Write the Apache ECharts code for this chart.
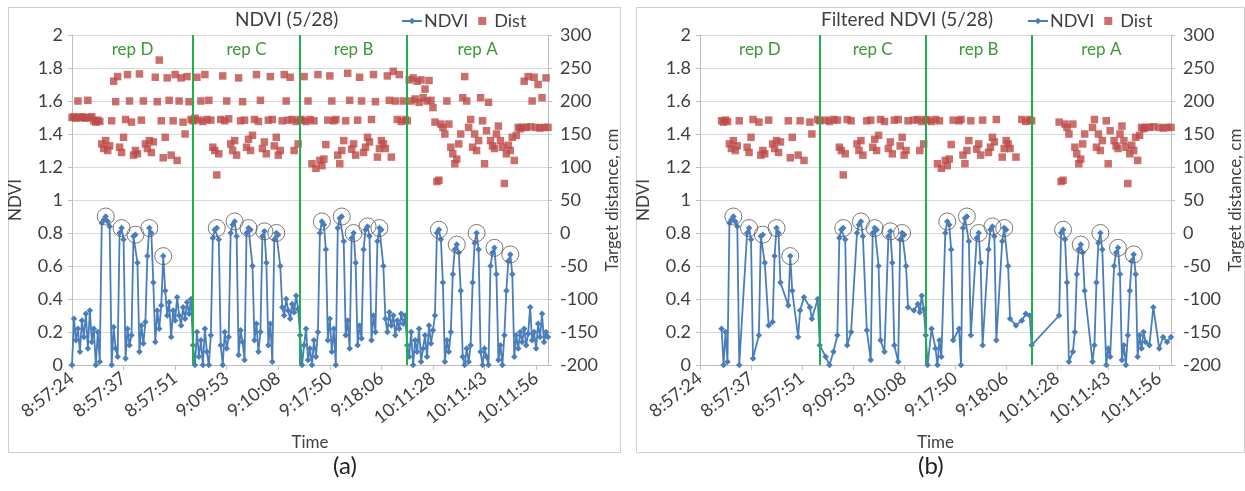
<!DOCTYPE html>
<html>
<head>
<meta charset="utf-8">
<script src="https://cdn.jsdelivr.net/npm/echarts@6/dist/echarts.min.js"></script>
<style>
  html, body { margin: 0; padding: 0; background: #ffffff; }
  #chart { width: 1245px; height: 491px; }
</style>
</head>
<body>
<div id="chart"></div>
<script>
// Time labels shown on the category axis, one every labelStep samples
const tickLabels = ['8:57:24', '8:57:37', '8:57:51', '9:09:53', '9:10:08',
                    '9:17:50', '9:18:06', '10:11:28', '10:11:43', '10:11:56'];
const labelStep = 26;

// Plot names and the sample indices where each plot begins / ends
const repNames = ['rep D', 'rep C', 'rep B', 'rep A'];
const repBounds = [0, 61, 115, 169, 240];

// Raw NDVI readings
const ndviA = [
  0.00,0.28,0.15,0.22,0.08,0.27,0.17,0.31,0.10,0.33,
  0.14,0.22,0.00,0.20,0.02,0.86,0.88,0.90,0.87,0.84,
  0.00,0.23,0.10,0.05,0.80,0.83,0.76,0.04,0.22,0.12,
  0.18,0.78,0.79,0.62,0.08,0.24,0.13,0.26,0.66,0.83,
  0.80,0.50,0.14,0.33,0.22,0.36,0.66,0.45,0.30,0.38,
  0.17,0.33,0.27,0.41,0.30,0.24,0.35,0.28,0.38,0.31,
  0.40,
  0.12,0.00,0.20,0.05,0.15,0.00,0.22,0.08,0.00,
  0.18,0.77,0.82,0.83,0.76,0.12,0.00,0.20,0.10,0.17,
  0.80,0.85,0.87,0.78,0.06,0.21,0.14,0.03,0.80,0.83,
  0.82,0.60,0.15,0.25,0.08,0.20,0.78,0.81,0.62,0.12,
  0.25,0.02,0.76,0.80,0.79,0.60,0.35,0.30,0.40,0.33,
  0.28,0.37,0.32,0.42,0.34,
  0.18,0.00,0.12,0.22,0.03,
  0.10,0.00,0.15,0.05,0.20,0.80,0.87,0.85,0.70,0.15,
  0.28,0.08,0.22,0.00,0.83,0.89,0.90,0.75,0.18,0.27,
  0.10,0.77,0.80,0.62,0.12,0.24,0.16,0.70,0.82,0.84,
  0.78,0.15,0.30,0.20,0.75,0.83,0.82,0.60,0.28,0.20,
  0.32,0.24,0.30,0.18,0.27,0.22,0.31,0.25,0.30,
  0.12,
  0.05,0.20,0.00,0.15,0.08,0.22,0.02,0.10,0.18,0.05,
  0.24,0.13,0.21,0.30,0.80,0.82,0.76,0.50,0.02,0.15,
  0.08,0.20,0.55,0.70,0.73,0.68,0.45,0.05,0.00,0.10,
  0.02,0.12,0.50,0.74,0.80,0.70,0.08,0.00,0.10,0.05,
  0.00,0.60,0.68,0.71,0.55,0.03,0.12,0.00,0.18,0.45,
  0.63,0.67,0.55,0.05,0.18,0.10,0.20,0.14,0.22,0.12,
  0.19,0.35,0.15,0.20,0.10,0.25,0.17,0.31,0.14,0.20,
  0.17
];

// Raw target distance readings, cm
const distA = [
  175,176,174,200,175,176,175,174,201,175,
  176,170,168,171,169,135,128,140,125,132,
  170,230,199,237,130,122,145,172,240,200,
  168,118,125,120,241,171,200,135,128,140,
  122,138,236,199,262,170,114,145,235,201,
  118,170,240,110,200,235,168,150,237,199,
  172,
  170,174,236,171,200,169,240,172,201,
  171,130,125,88,120,172,238,170,200,173,
  135,125,140,118,235,170,199,171,130,142,
  125,148,172,240,169,201,128,138,120,171,
  237,172,132,145,118,125,170,240,200,171,
  236,172,125,169,135,
  172,171,237,169,200,
  172,105,170,98,240,110,102,112,134,171,
  238,200,170,172,118,105,125,140,170,242,
  201,127,135,118,171,236,200,122,130,145,
  138,172,240,199,115,128,140,135,128,238,
  201,115,245,200,172,240,169,200,172,
  170,
  232,200,235,203,230,198,232,205,218,200,
  231,201,190,168,78,80,165,160,150,200,
  165,130,120,105,112,135,150,205,237,200,
  160,172,130,150,125,140,205,170,105,155,
  198,140,132,128,150,162,140,130,75,120,
  133,125,145,110,148,160,158,160,230,160,
  237,161,200,236,160,225,159,205,160,235,
  160
];

// Filtered NDVI readings (null = dropped sample)
const ndviB = [
  null,null,null,null,null,null,null,null,null,null,
  null,0.22,0.00,0.20,0.02,0.86,0.88,0.90,0.87,0.84,
  0.00,null,null,null,0.80,0.83,0.76,0.04,null,null,
  0.18,0.78,0.79,0.62,null,0.24,null,0.26,0.66,0.83,
  0.80,0.50,null,null,null,0.36,0.66,0.45,null,null,
  0.17,0.33,null,0.41,null,null,0.35,0.28,null,null,
  0.40,
  0.12,null,null,0.05,null,0.00,null,0.08,null,
  0.18,0.77,0.82,0.83,0.76,0.12,null,0.20,null,null,
  0.80,0.85,0.87,0.78,null,0.21,null,0.03,0.80,0.83,
  0.82,0.60,0.15,null,0.08,null,0.78,0.81,0.62,0.12,
  null,0.02,0.76,0.80,0.79,0.60,0.35,null,null,0.33,
  null,0.37,0.32,0.42,0.34,
  0.18,0.00,null,0.22,null,
  0.10,0.00,0.15,0.05,null,0.80,0.87,0.85,0.70,0.15,
  null,null,0.22,0.00,0.83,0.89,0.90,0.75,0.18,null,
  null,0.77,0.80,0.62,0.12,null,null,0.70,0.82,0.84,
  0.78,0.15,null,null,0.75,0.83,0.82,0.60,0.28,null,
  null,0.24,null,null,0.27,null,0.31,null,0.30,
  0.12,
  null,null,null,null,null,null,null,null,null,null,
  null,null,null,0.30,0.80,0.82,0.76,0.50,0.02,null,
  0.08,0.20,0.55,0.70,0.73,0.68,0.45,null,null,null,
  0.02,0.12,0.50,0.74,0.80,0.70,null,0.00,0.10,0.05,
  null,0.60,0.68,0.71,0.55,0.03,0.12,0.00,0.18,0.45,
  0.63,0.67,0.55,0.05,0.18,0.10,0.20,0.14,null,0.12,
  null,0.35,null,null,0.10,null,0.17,null,0.14,null,
  0.17
];

// Filtered target distance readings, cm (null = dropped sample)
const distB = [
  null,null,null,null,null,null,null,null,null,null,
  null,170,168,171,169,135,128,140,125,132,
  170,null,null,null,130,122,145,172,null,null,
  168,118,125,120,null,171,null,135,128,140,
  122,138,null,null,null,170,114,145,null,null,
  118,170,null,110,null,null,168,150,null,null,
  172,
  170,null,null,171,null,169,null,172,null,
  171,130,125,88,120,172,null,170,null,null,
  135,125,140,118,null,170,null,171,130,142,
  125,148,172,null,169,null,128,138,120,171,
  null,172,132,145,118,125,170,null,null,171,
  null,172,125,169,135,
  172,171,null,169,null,
  172,105,170,98,null,110,102,112,134,171,
  null,null,170,172,118,105,125,140,170,null,
  null,127,135,118,171,null,null,122,130,145,
  138,172,null,null,115,128,140,135,128,null,
  null,115,null,null,172,null,169,null,172,
  170,
  null,null,null,null,null,null,null,null,null,null,
  null,null,null,168,78,80,165,160,150,null,
  165,130,120,105,112,135,150,null,null,null,
  160,172,130,150,125,140,null,170,105,155,
  null,140,132,128,150,162,140,130,75,120,
  133,125,145,110,148,160,158,160,null,160,
  null,161,null,null,160,null,159,null,160,null,
  160
];

// Sample indices of the circled NDVI peaks
const peaksA = [17, 25, 32, 39, 46, 73, 82, 89, 97, 103, 126, 136, 142, 149, 155, 185, 194, 204, 213, 221];
const peaksB = [17, 25, 32, 39, 46, 73, 82, 89, 97, 103, 126, 136, 142, 149, 155, 185, 194, 204, 213, 221];

const FONT = 'Lato';
const TXT = '#404040';
const AXIS = '#bfbfbf';
const GRID = '#d9d9d9';
const BLUE = '#4a7ebb';
const RED = '#be4b48';
const GREEN_LINE = '#1fb04a';
const GREEN_TXT = '#3a9a35';
const FS = 18;

const categories = ndviA.map((_, i) =>
  i % labelStep === 0 ? (tickLabels[i / labelStep] || '') : '');

const chart = echarts.init(document.getElementById('chart'), null, { renderer: 'canvas' });

function xAxisFor(gridIndex) {
  return {
    type: 'category', gridIndex, data: categories, boundaryGap: false,
    axisLine: { lineStyle: { color: AXIS, width: 1 } },
    axisTick: { show: true, interval: labelStep - 1, length: 5, lineStyle: { color: AXIS } },
    axisLabel: { interval: labelStep - 1, rotate: 38, margin: 11, fontSize: FS, color: TXT, fontFamily: FONT },
    splitLine: { show: false },
    name: 'Time', nameLocation: 'middle', nameGap: 66,
    nameTextStyle: { fontSize: 17, color: TXT, fontFamily: FONT }
  };
}

function leftAxisFor(gridIndex) {
  return {
    type: 'value', gridIndex, position: 'left', min: 0, max: 2, interval: 0.2,
    axisLine: { show: true, lineStyle: { color: AXIS } },
    axisTick: { show: true, length: 4, lineStyle: { color: AXIS } },
    axisLabel: { fontSize: FS, color: TXT, fontFamily: FONT, margin: 9 },
    splitLine: { show: true, lineStyle: { color: GRID, width: 1 } },
    name: 'NDVI', nameLocation: 'middle', nameGap: 48, nameRotate: 90,
    nameTextStyle: { fontSize: 17, color: TXT, fontFamily: FONT }
  };
}

function rightAxisFor(gridIndex) {
  return {
    type: 'value', gridIndex, position: 'right', min: -200, max: 300, interval: 50,
    axisLine: { show: true, lineStyle: { color: AXIS } },
    axisTick: { show: true, length: 4, lineStyle: { color: AXIS } },
    axisLabel: { fontSize: FS, color: TXT, fontFamily: FONT, margin: 12 },
    splitLine: { show: false },
    name: 'Target distance, cm', nameLocation: 'middle', nameGap: 56, nameRotate: 90,
    nameTextStyle: { fontSize: 17, color: TXT, fontFamily: FONT }
  };
}

function panelSeries(axisIdx, ndvi, dist, peaks) {
  const areas = repNames.map((name, k) => [
    { xAxis: repBounds[k], name },
    { xAxis: repBounds[k + 1] }
  ]);
  const lines = repBounds.slice(1, -1).map(b => ({ xAxis: b }));
  return [
    {
      name: 'NDVI', type: 'line', xAxisIndex: axisIdx, yAxisIndex: axisIdx * 2,
      data: ndvi, connectNulls: true, showAllSymbol: true,
      symbol: 'diamond', symbolSize: 6.5,
      lineStyle: { color: BLUE, width: 1.8 },
      itemStyle: { color: BLUE },
      z: 3,
      markArea: {
        silent: true,
        itemStyle: { color: 'rgba(0,0,0,0)' },
        label: { show: true, position: 'insideTop', distance: 6, color: GREEN_TXT, fontSize: 17, fontFamily: FONT },
        data: areas
      },
      markLine: {
        silent: true, symbol: ['none', 'none'],
        label: { show: false },
        lineStyle: { color: GREEN_LINE, width: 2, type: 'solid' },
        data: lines
      }
    },
    {
      name: 'Dist', type: 'scatter', xAxisIndex: axisIdx, yAxisIndex: axisIdx * 2 + 1,
      data: dist, symbol: 'rect', symbolSize: 7.5,
      itemStyle: { color: RED }, z: 2
    },
    {
      name: 'peak', type: 'scatter', xAxisIndex: axisIdx, yAxisIndex: axisIdx * 2,
      data: peaks.map(i => [i, ndvi[i]]),
      symbol: 'circle', symbolSize: 17,
      itemStyle: { color: 'rgba(0,0,0,0)', borderColor: '#595959', borderWidth: 1 },
      z: 4, silent: true
    }
  ];
}

const legendCommon = {
  data: [
    { name: 'NDVI' },
    { name: 'Dist', icon: 'path://M0,0L10,0L10,10L0,10Z' }
  ],
  top: 7, itemGap: 10, itemWidth: 20, itemHeight: 8,
  symbolKeepAspect: true,
  textStyle: { fontSize: FS, color: TXT, fontFamily: FONT, padding: [0, 0, 0, -3] }
};

const option = {
  animation: false,
  backgroundColor: '#ffffff',
  textStyle: { fontFamily: FONT },
  title: [
    { text: 'NDVI (5/28)', left: 230, top: 5, textStyle: { fontSize: 19, fontWeight: 'normal', color: TXT, fontFamily: FONT } },
    { text: 'Filtered NDVI (5/28)', left: 816, top: 5, textStyle: { fontSize: 19, fontWeight: 'normal', color: TXT, fontFamily: FONT } }
  ],
  legend: [
    Object.assign({ left: 396 }, legendCommon),
    Object.assign({ left: 1022 }, legendCommon)
  ],
  grid: [
    { left: 72, top: 35, width: 476, height: 330 },
    { left: 700, top: 35, width: 475, height: 330 }
  ],
  xAxis: [xAxisFor(0), xAxisFor(1)],
  yAxis: [leftAxisFor(0), rightAxisFor(0), leftAxisFor(1), rightAxisFor(1)],
  series: [
    ...panelSeries(0, ndviA, distA, peaksA),
    ...panelSeries(1, ndviB, distB, peaksB)
  ],
  graphic: [
    { type: 'rect', shape: { x: 8.5, y: 7.5, width: 612, height: 445 }, style: { fill: 'none', stroke: '#d0d0d0', lineWidth: 1 }, silent: true, z: -1 },
    { type: 'rect', shape: { x: 636.5, y: 7.5, width: 608, height: 445 }, style: { fill: 'none', stroke: '#d0d0d0', lineWidth: 1 }, silent: true, z: -1 },
    { type: 'text', left: 333, top: 454, style: { text: '(a)', fontSize: 24, fill: '#222', fontFamily: FONT }, silent: true },
    { type: 'text', left: 918, top: 454, style: { text: '(b)', fontSize: 24, fill: '#222', fontFamily: FONT }, silent: true }
  ]
};

chart.setOption(option);
</script>
</body>
</html>
